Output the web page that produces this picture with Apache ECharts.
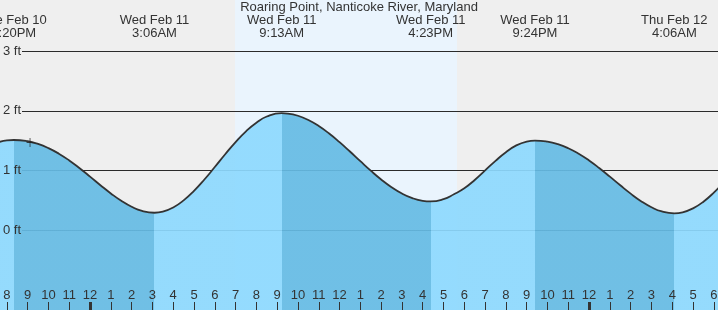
<!DOCTYPE html>
<html>
<head>
<meta charset="utf-8">
<script src="https://cdn.jsdelivr.net/npm/echarts@6/dist/echarts.min.js"></script>
<style>html,body{margin:0;padding:0;background:#efefef}#c{width:718px;height:310px}</style>
</head>
<body>
<div id="c"></div>
<script>
// ---- data (hours relative to Wed Feb 11 00:00, heights in ft) ----
const titleText = 'Roaring Point, Nanticoke River, Maryland';
const tideHours = [-5, -4.5, -4, -3.667, -3, -2.5, -2, -1.5, -1, -0.5, 0, 0.5, 1, 1.5, 2, 2.5, 3.1,
  3.5, 4, 4.5, 5, 5.5, 6, 6.5, 7, 7.5, 8, 8.5, 9.217,
  9.5, 10, 10.5, 11, 11.5, 12, 12.5, 13, 13.5, 14, 14.5, 15, 15.5, 16, 16.383,
  17, 17.5, 18, 18.5, 19, 19.5, 20, 20.5, 21, 21.4,
  22, 22.5, 23, 23.5, 24, 24.5, 25, 25.5, 26, 26.5, 27, 27.5, 28.1,
  28.5, 29, 29.5, 30, 30.5];
const tideFeet = [1.393, 1.464, 1.503, 1.51, 1.489, 1.444, 1.374, 1.281, 1.167, 1.036, 0.896, 0.752, 0.614, 0.490, 0.390, 0.320, 0.29,
  0.308, 0.378, 0.497, 0.657, 0.847, 1.057, 1.271, 1.475, 1.656, 1.801, 1.904, 1.96,
  1.954, 1.917, 1.846, 1.745, 1.619, 1.474, 1.317, 1.155, 0.996, 0.848, 0.719, 0.612, 0.535, 0.490, 0.48,
  0.518, 0.600, 0.700, 0.840, 1.000, 1.160, 1.305, 1.420, 1.484, 1.50,
  1.482, 1.440, 1.372, 1.280, 1.167, 1.036, 0.895, 0.750, 0.610, 0.484, 0.382, 0.311, 0.28,
  0.297, 0.363, 0.475, 0.628, 0.809];
const extremeHours = [-3.667, 3.1, 9.217, 16.383, 21.4, 28.1];
const extremeFeet  = [1.51, 0.29, 1.96, 0.48, 1.50, 0.28];
const extremeDays  = ['Tue Feb 10', 'Wed Feb 11', 'Wed Feb 11', 'Wed Feb 11', 'Wed Feb 11', 'Thu Feb 12'];
const extremeTimes = ['8:20PM', '3:06AM', '9:13AM', '4:23PM', '9:24PM', '4:06AM'];
const sunriseHour = 6.97, sunsetHour = 17.65;
const nowHour = -2.886, nowFeet = 1.47;
const hourTicks  = [-4,-3,-2,-1,0,1,2,3,4,5,6,7,8,9,10,11,12,13,14,15,16,17,18,19,20,21,22,23,24,25,26,27,28,29,30];
const hourLabels = ['8','9','10','11','12','1','2','3','4','5','6','7','8','9','10','11','12','1','2','3','4','5','6','7','8','9','10','11','12','1','2','3','4','5','6'];
const midnightTicks = [0, 24];
const feetTicks = [0, 1, 2, 3];

// ---- layout ----
const X_MIN = -4.33, X_MAX = 30.2;
const Y_MIN = -1.342, Y_MAX = 3.859;
const FONT = 'Liberation Sans, Arial, sans-serif';
const TXT = '#333';
const LIGHT = '#8dd9fe', DARK = '#65bbe4';

const tide = tideHours.map((h, i) => [h, tideFeet[i]]);

// falling tide (high -> low) dark, rising light
const pieces = [{ lt: extremeHours[0], color: extremeFeet[0] > extremeFeet[1] ? LIGHT : DARK }];
for (let i = 0; i < extremeHours.length - 1; i++) {
  pieces.push({ gte: extremeHours[i], lt: extremeHours[i + 1], color: extremeFeet[i] > extremeFeet[i + 1] ? DARK : LIGHT });
}
const lastI = extremeHours.length - 1;
pieces.push({ gte: extremeHours[lastI], color: extremeFeet[lastI] < extremeFeet[lastI - 1] ? LIGHT : DARK });

const chart = echarts.init(document.getElementById('c'), null, { renderer: 'canvas' });
chart.setOption({
  animation: false,
  backgroundColor: '#efefef',
  title: {
    text: titleText, left: 'center', top: 1, padding: 0,
    textStyle: { fontFamily: FONT, fontSize: 13, fontWeight: 'normal', color: TXT }
  },
  grid: [
    { left: 0, right: 0, top: 0, bottom: 0, containLabel: false, outerBoundsMode: 'none' },
    { left: 22, right: 0, top: 0, bottom: 0, containLabel: false, outerBoundsMode: 'none' }
  ],
  xAxis: [
    { gridIndex: 0, type: 'value', min: X_MIN, max: X_MAX, position: 'bottom', z: 6,
      axisLine: { show: false, onZero: false }, splitLine: { show: false },
      axisTick: { show: true, inside: true, length: 8, customValues: hourTicks, lineStyle: { color: TXT, width: 1 } },
      axisLabel: { show: true, inside: true, margin: 8, customValues: hourTicks, color: TXT, fontFamily: FONT, fontSize: 13,
        formatter: v => hourLabels[hourTicks.indexOf(v)] } },
    { gridIndex: 0, type: 'value', min: X_MIN, max: X_MAX, position: 'top', z: 6,
      axisLine: { show: false, onZero: false }, splitLine: { show: false }, axisTick: { show: false },
      axisLabel: { show: true, inside: true, margin: 14, customValues: extremeHours, color: TXT, fontFamily: FONT, fontSize: 13, lineHeight: 13,
        formatter: v => { const i = extremeHours.findIndex(h => Math.abs(h - v) < 1e-6); return extremeDays[i] + '\n' + extremeTimes[i]; } } },
    { gridIndex: 0, type: 'value', min: X_MIN, max: X_MAX, position: 'bottom', z: 6,
      axisLine: { show: false, onZero: false }, splitLine: { show: false }, axisLabel: { show: false },
      axisTick: { show: true, inside: true, length: 8, customValues: midnightTicks, lineStyle: { color: TXT, width: 3 } } },
    { gridIndex: 1, type: 'value', min: X_MIN, max: X_MAX, show: false, axisLine: { onZero: false } }
  ],
  yAxis: [
    { gridIndex: 0, type: 'value', min: Y_MIN, max: Y_MAX, z: 6,
      axisLine: { show: false, onZero: false }, axisTick: { show: false, customValues: feetTicks }, splitLine: { show: false },
      axisLabel: { show: true, inside: true, margin: 3, customValues: feetTicks, color: TXT, fontFamily: FONT, fontSize: 13,
        formatter: '{value} ft' } },
    { gridIndex: 1, type: 'value', min: Y_MIN, max: Y_MAX, z: 1,
      axisLine: { show: false, onZero: false }, axisLabel: { show: false },
      axisTick: { show: false, customValues: feetTicks },
      splitLine: { show: true, lineStyle: { color: '#2b2b2b', width: 1 } } }
  ],
  visualMap: {
    type: 'piecewise', show: false, dimension: 0, seriesIndex: 1, pieces: pieces
  },
  series: [
    { type: 'line', xAxisIndex: 0, yAxisIndex: 0, data: tide, showSymbol: false, silent: true, z: 0,
      lineStyle: { opacity: 0, width: 0 },
      markArea: { silent: true, z: 0, itemStyle: { color: '#eaf4fd' },
        data: [[{ xAxis: sunriseHour }, { xAxis: sunsetHour }]] } },
    { type: 'line', xAxisIndex: 0, yAxisIndex: 0, data: tide, smooth: 0.5, showSymbol: false, silent: true, z: 2,
      lineStyle: { width: 0 }, areaStyle: { opacity: 0.92, origin: 'start' } },
    { type: 'line', xAxisIndex: 0, yAxisIndex: 0, data: tide, smooth: 0.5, showSymbol: false, silent: true, z: 3,
      color: '#333', lineStyle: { color: '#333', width: 1.8 } },
    { type: 'scatter', xAxisIndex: 0, yAxisIndex: 0, data: [[nowHour, nowFeet]], silent: true, z: 4,
      color: '#222',
      symbol: 'path://M4.5,0h1v10h-1z M0,4.5h10v1h-10z', symbolSize: [7, 9],
      itemStyle: { color: '#222', borderWidth: 0, opacity: 1 } }
  ]
});
</script>
</body>
</html>
